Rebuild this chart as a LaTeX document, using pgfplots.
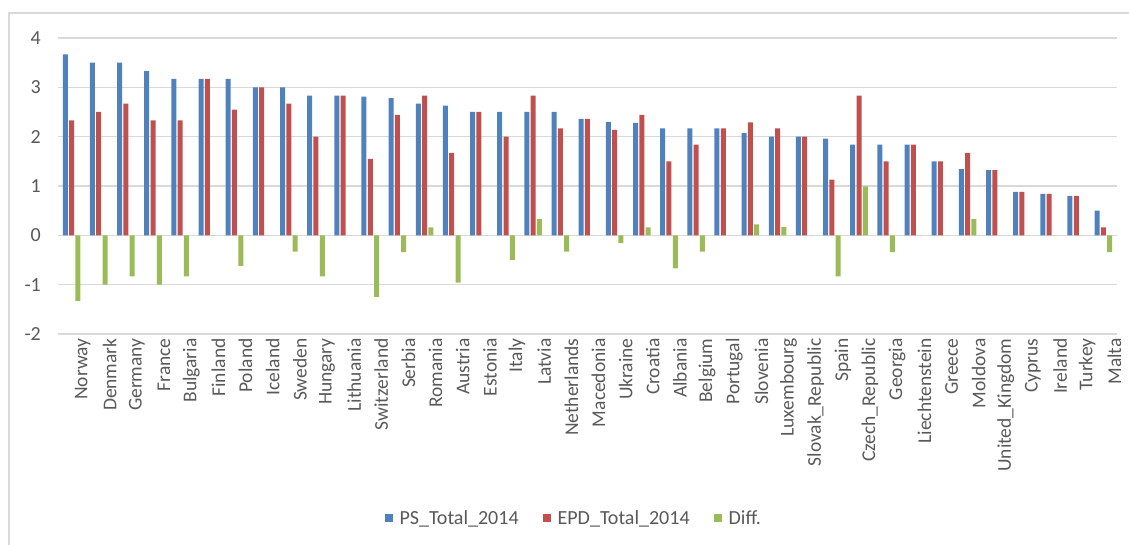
\documentclass[border=0pt]{standalone}
\usepackage{pgfplots}
\usepackage{pgfplotstable}
\pgfplotsset{compat=1.18}
\usepackage{fontspec}
\setmainfont{Carlito}
\definecolor{psblue}{HTML}{4F81BD}
\definecolor{epdred}{HTML}{C0504D}
\definecolor{diffgreen}{HTML}{9BBB59}
\definecolor{gridgray}{HTML}{D9D9D9}
\definecolor{txtgray}{HTML}{595959}

% idx  PS  EPD  Diff
\pgfplotstableread{
x  ps    epd   diff
0  3.67  2.33  -1.33
1  3.50  2.50  -1.00
2  3.50  2.67  -0.83
3  3.33  2.33  -1.00
4  3.17  2.33  -0.83
5  3.17  3.17   0
6  3.17  2.55  -0.62
7  3.00  3.00   0
8  3.00  2.67  -0.33
9  2.83  2.00  -0.83
10 2.83  2.83   0
11 2.81  1.55  -1.25
12 2.78  2.44  -0.34
13 2.67  2.83   0.16
14 2.63  1.67  -0.96
15 2.50  2.50   0
16 2.50  2.00  -0.50
17 2.50  2.83   0.33
18 2.50  2.17  -0.33
19 2.36  2.36   0
20 2.30  2.14  -0.16
21 2.28  2.44   0.16
22 2.17  1.50  -0.67
23 2.17  1.84  -0.33
24 2.17  2.17   0
25 2.07  2.29   0.22
26 2.00  2.17   0.17
27 2.00  2.00   0
28 1.96  1.13  -0.83
29 1.84  2.83   0.99
30 1.84  1.50  -0.34
31 1.84  1.84   0
32 1.50  1.50   0
33 1.34  1.67   0.33
34 1.32  1.32   0
35 0.88  0.88   0
36 0.84  0.84   0
37 0.80  0.80   0
38 0.50  0.16  -0.34
}\datatable

\begin{document}
\begin{tikzpicture}
\useasboundingbox (0,0) rectangle (1129bp,545bp);
\draw[gridgray, line width=2bp] (9bp,0) -- (9bp,532bp) -- (1129bp,532bp);
\begin{axis}[
    at={(58bp,211bp)}, anchor=south west,
    scale only axis,
    width=1059bp, height=296bp,
    ybar=1.3bp, bar width=5bp,
    xmin=-0.5, xmax=38.5,
    ymin=-2, ymax=4,
    ytick={-2,-1,...,4},
    xtick={0,...,38},
    xticklabels={Norway,Denmark,Germany,France,Bulgaria,Finland,Poland,Iceland,Sweden,Hungary,Lithuania,Switzerland,Serbia,Romania,Austria,Estonia,Italy,Latvia,Netherlands,Macedonia,Ukraine,Croatia,Albania,Belgium,Portugal,Slovenia,Luxembourg,Slovak\_Republic,Spain,Czech\_Republic,Georgia,Liechtenstein,Greece,Moldova,United\_Kingdom,Cyprus,Ireland,Turkey,Malta},
    xticklabel style={rotate=90, anchor=east, font=\fontsize{19.5bp}{22bp}\selectfont, text=txtgray, inner sep=0pt, yshift=-11bp},
    yticklabel style={font=\fontsize{20bp}{24bp}\selectfont, text=txtgray, inner sep=0pt, xshift=-17bp},
    /pgf/number format/assume math mode=true,
    ymajorgrids,
    grid style={gridgray, line width=1.2bp},
    axis line style={draw=none},
    major tick style={draw=none},
    legend style={at={(0.487,-0.622)}, anchor=center, draw=none,
        font=\fontsize{20bp}{24bp}\selectfont, text=txtgray,
        legend columns=3, /tikz/every even column/.append style={column sep=22bp}},
    legend image code/.code={\fill[#1] (0bp,-4bp) rectangle (8bp,4bp); \path (13bp,0bp);},
]
\addplot[fill=psblue, draw=none] table[x=x, y=ps] {\datatable};
\addplot[fill=epdred, draw=none] table[x=x, y=epd] {\datatable};
\addplot[fill=diffgreen, draw=none] table[x=x, y=diff] {\datatable};
\legend{PS\_Total\_2014, EPD\_Total\_2014, Diff.}
\end{axis}
\end{tikzpicture}
\end{document}
